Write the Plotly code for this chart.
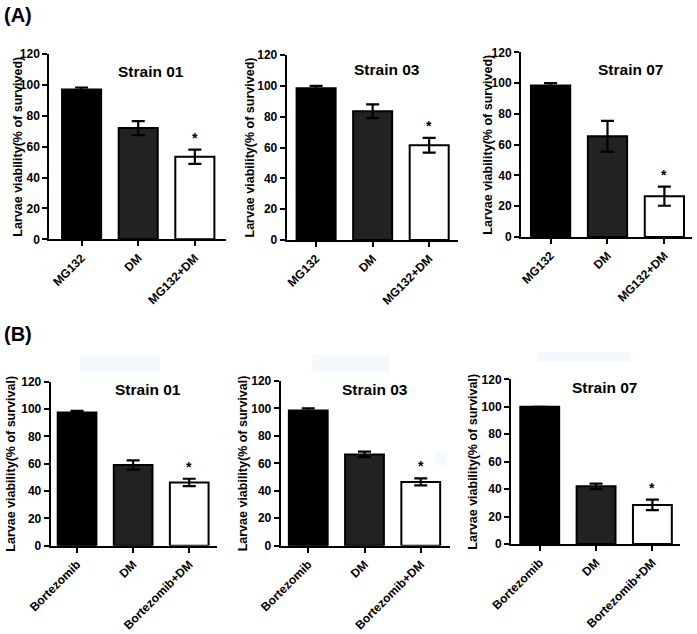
import plotly.graph_objects as go

# ---------------- data ----------------
categories_A = ["MG132", "DM", "MG132+DM"]
categories_B = ["Bortezomib", "DM", "Bortezomib+DM"]
strain_titles = ["Strain 01", "Strain 03", "Strain 07"]
y_title_A = "Larvae viability(% of survived)"
y_title_B = "Larvae viability(% of survival)"
y_ticks = [0, 20, 40, 60, 80, 100, 120]

A_mean_01 = [97.0, 72.0, 53.5]
A_err_01 = [1.3, 4.5, 4.6]
A_mean_03 = [98.5, 83.5, 61.5]
A_err_03 = [1.5, 4.5, 4.8]
A_mean_07 = [98.5, 65.5, 26.5]
A_err_07 = [1.5, 10.0, 6.2]

B_mean_01 = [97.5, 59.0, 46.3]
B_err_01 = [1.2, 3.4, 2.7]
B_mean_03 = [98.5, 66.5, 46.5]
B_err_03 = [1.5, 2.0, 2.5]
B_mean_07 = [100.0, 42.0, 28.5]
B_err_07 = [0.0, 2.0, 3.8]

W, H = 697, 634
FONT = "Liberation Sans, Arial, sans-serif"
bar_colors = ["#000000", "#222220", "#ffffff"]

# panel boxes in pixels: (x_axis_left, x_axis_right, y_top(120), y_bottom(0)), x range
panels = [
    dict(cats=categories_A, mean=A_mean_01, err=A_err_01, title=strain_titles[0], ytitle=y_title_A,
         box=(49.3, 226, 54, 239.3), xr=[-0.57, 2.55], tpos=(151, 72), ytpos=18),
    dict(cats=categories_A, mean=A_mean_03, err=A_err_03, title=strain_titles[1], ytitle=y_title_A,
         box=(286.7, 458.3, 55, 240), xr=[-0.52, 2.515], tpos=(387, 69), ytpos=249),
    dict(cats=categories_A, mean=A_mean_07, err=A_err_07, title=strain_titles[2], ytitle=y_title_A,
         box=(521, 691.7, 52.3, 237), xr=[-0.52, 2.48], tpos=(630, 69), ytpos=488),
    dict(cats=categories_B, mean=B_mean_01, err=B_err_01, title=strain_titles[0], ytitle=y_title_B,
         box=(50.7, 216.7, 381.7, 545.7), xr=[-0.47, 2.49], tpos=(148, 389), ytpos=11),
    dict(cats=categories_B, mean=B_mean_03, err=B_err_03, title=strain_titles[1], ytitle=y_title_B,
         box=(280.7, 450, 381, 545.7), xr=[-0.49, 2.52], tpos=(375, 389), ytpos=243),
    dict(cats=categories_B, mean=B_mean_07, err=B_err_07, title=strain_titles[2], ytitle=y_title_B,
         box=(511, 680, 379.3, 544), xr=[-0.51, 2.49], tpos=(604, 387), ytpos=473),
]

fig = go.Figure()
annotations = []
shapes = []

for i, p in enumerate(panels):
    n = "" if i == 0 else str(i + 1)
    xa, ya = "x" + n, "y" + n
    x0, x1, yt, yb = p["box"]
    fig.add_trace(go.Bar(
        x=p["cats"], y=p["mean"], xaxis=xa, yaxis=ya, width=0.69,
        marker=dict(color=bar_colors, line=dict(color="#000000", width=2)),
        error_y=dict(type="data", array=p["err"], visible=True, color="#000000",
                     thickness=2.2, width=6.5),
        showlegend=False, hoverinfo="x+y",
    ))
    tickfont = dict(family=FONT, size=12, color="#000000", weight="bold")
    fig.layout["xaxis" + n] = dict(
        domain=[x0 / W, x1 / W], anchor=ya, range=p["xr"], type="category",
        showline=True, linecolor="#000000", linewidth=2,
        ticks="outside", ticklen=5, tickwidth=2, tickcolor="#000000",
        tickangle=-45, tickfont=tickfont, showgrid=False, zeroline=False,
        fixedrange=True, automargin=False,
    )
    fig.layout["yaxis" + n] = dict(
        domain=[1 - yb / H, 1 - yt / H], anchor=xa, range=[0, 120],
        tickvals=y_ticks, showline=True, linecolor="#000000", linewidth=2,
        ticks="outside", ticklen=5, tickwidth=2, tickcolor="#000000",
        tickfont=tickfont, showgrid=False, zeroline=False, fixedrange=True,
        automargin=False,
    )
    # strain title
    annotations.append(dict(
        text=p["title"], x=p["tpos"][0] / W, y=1 - p["tpos"][1] / H, xref="paper", yref="paper",
        xanchor="center", yanchor="middle", showarrow=False,
        font=dict(family=FONT, size=15.5, color="#000000", weight="bold"),
    ))
    # y-axis title
    annotations.append(dict(
        text=p["ytitle"], x=p["ytpos"] / W, y=1 - ((yt + yb) / 2) / H, xref="paper", yref="paper",
        xanchor="center", yanchor="middle", showarrow=False, textangle=-90,
        font=dict(family=FONT, size=12.5, color="#000000", weight="bold"),
    ))
    # significance star above third bar
    annotations.append(dict(
        text="*", x=p["cats"][2], y=p["mean"][2] + p["err"][2], xref=xa, yref=ya,
        xanchor="center", yanchor="bottom", yshift=2, showarrow=False,
        font=dict(family=FONT, size=14, color="#000000", weight="bold"),
    ))

# panel labels
for lab, ypx in [("(A)", 15), ("(B)", 334)]:
    annotations.append(dict(
        text=lab, x=2 / W, y=1 - ypx / H, xref="paper", yref="paper",
        xanchor="left", yanchor="middle", showarrow=False,
        font=dict(family=FONT, size=20, color="#000000", weight="bold"),
    ))

# faint scanning artefacts above panel B
for (a, b, c, d) in [(80, 160, 355, 372), (312, 390, 355, 372), (538, 630, 352, 362), (435, 447, 452, 465)]:
    shapes.append(dict(type="rect", xref="paper", yref="paper", x0=a / W, x1=b / W,
                       y0=1 - d / H, y1=1 - c / H, fillcolor="#f3f9fd", line=dict(width=0),
                       layer="below"))

fig.update_layout(
    template="none",
    width=W, height=H, margin=dict(l=0, r=0, t=0, b=0, autoexpand=False),
    paper_bgcolor="#ffffff", plot_bgcolor="rgba(0,0,0,0)",
    annotations=annotations, shapes=shapes,
    font=dict(family=FONT, color="#000000"),
)

fig.write_html(
    "out.html",
    config={"displayModeBar": False},
    post_script="document.body.style.margin='0';document.body.style.padding='0';"
                "document.documentElement.style.margin='0';",
)
